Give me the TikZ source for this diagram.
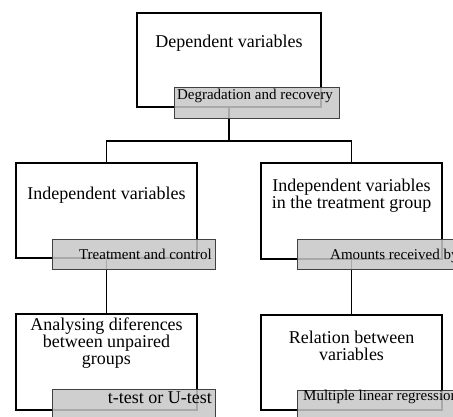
\documentclass[tikz,border=0pt]{standalone}
\usepackage{fontspec}
\setmainfont{Liberation Serif}
\begin{document}
\begin{tikzpicture}[x=1pt,y=1pt,
  box/.style={draw=black, line width=1.4pt, fill=white, rectangle, inner sep=0pt},
  tag/.style={draw=black!75, line width=1pt, fill=black!22, fill opacity=0.85, draw opacity=1, rectangle, inner sep=0pt, anchor=north west},
  main/.style={font=\fontsize{18}{17}\selectfont, align=center, inner sep=0pt, text=black},
  small/.style={font=\fontsize{15}{16}\selectfont, inner sep=0pt, text=black},
  conn/.style={draw=black, line width=1.4pt}
]
\path[use as bounding box] (0,0) rectangle (453,-416);
\clip (0,0) rectangle (453,-416);
\fill[white] (0,0) rectangle (453,-416);

% white boxes
\node[box, minimum width=184pt, minimum height=94pt] (top) at (229,-60) {};
\node[box, minimum width=181pt, minimum height=95pt] (left) at (106.5,-210.5) {};
\node[box, minimum width=181pt, minimum height=96pt] (right) at (351.5,-211) {};
\node[box, minimum width=181pt, minimum height=96pt] (bl) at (106.5,-362) {};
\node[box, minimum width=181pt, minimum height=95pt] (br) at (351.5,-362.5) {};

% connectors
\coordinate (j) at (229,-141);
\draw[conn] (top.south) -- (j);
\draw[conn] (left.north) |- (j) -| (right.north);
\draw[conn] (left.south) -- (bl.north);
\draw[conn] (right.south) -- (br.north);

% grey tags
\node[tag, minimum width=165pt, minimum height=31pt] (gtop) at (174,-87) {};
\node[tag, minimum width=163pt, minimum height=30pt] (gleft) at (52,-239) {};
\node[tag, minimum width=163pt, minimum height=30pt] (gright) at (297,-239) {};
\node[tag, minimum width=163pt, minimum height=31pt] (gbl) at (52,-389) {};
\node[tag, minimum width=163pt, minimum height=31pt] (gbr) at (297,-390) {};

% main texts
\node[main] (ttop) at (229,-43) {Dependent variables};
\node[main] (tleft) at (106.5,-195) {Independent variables};
\node[main] (tright) at (351.5,-195.5) {Independent variables\\in the treatment group};
\node[main] (tbl) at (106.5,-343.5) {Analysing diferences\\between unpaired\\groups};
\node[main] (tbr) at (351.5,-346) {Relation between\\variables};

% tag texts
\node[small, anchor=east] (ltop) at (333,-96) {Degradation and recovery};
\node[small, anchor=east] (lleft) at (212,-254) {Treatment and control};
\node[small, anchor=west] (lright) at (330,-256) {Amounts received by};
\node[main, anchor=east] (lbl) at (212,-398) {t-test or U-test};
\node[small, anchor=west] (lbr) at (303,-397) {Multiple linear regression};
\end{tikzpicture}
\end{document}
